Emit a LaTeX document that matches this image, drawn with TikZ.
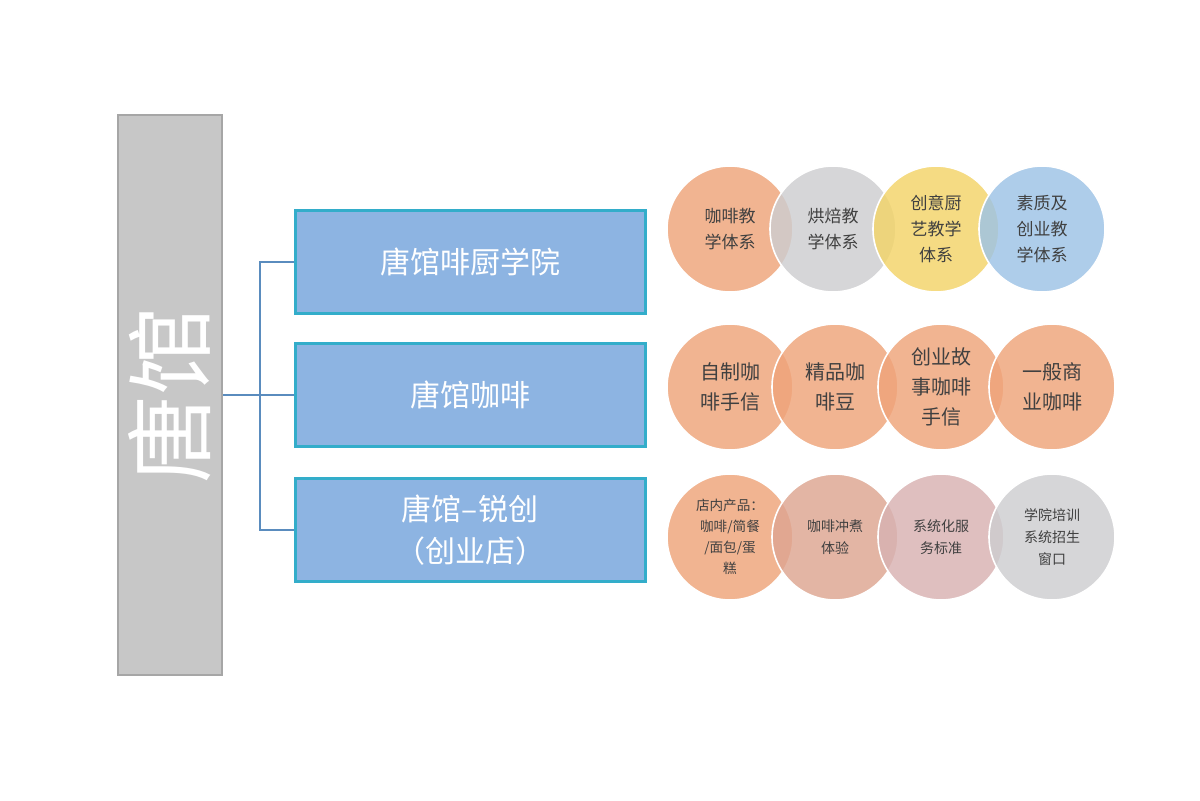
\documentclass[tikz,border=0pt]{standalone}
\usepackage{fontspec}
\newfontfamily\cjk{Noto Sans CJK SC}
\begin{document}
\begin{tikzpicture}[x=0.5pt,y=-0.5pt,
  bar/.style={draw=gray!70,line width=1pt,fill=black!22,minimum width=52pt,minimum height=280pt,inner sep=0},
  bluebox/.style={draw=black!8!blue!20!cyan!60!gray,line width=1.5pt,fill={rgb,255:red,141;green,180;blue,226},minimum width=175pt,minimum height=51.5pt,inner sep=0,text=white,font=\cjk\fontsize{15}{21}\selectfont,align=center},
  circ/.style={circle,minimum size=63pt,inner sep=0,draw=white,line width=0.8pt,fill opacity=0.82,text opacity=1,align=center,text=black!75,font=\cjk\fontsize{8.5}{13}\selectfont},
  conn/.style={draw={rgb,255:red,90;green,140;blue,190},line width=0.6pt}]
\useasboundingbox (0,0) rectangle (1200,800);
\fill[white] (0,0) rectangle (1200,800);
\definecolor{cor}{RGB}{239,164,122}
\definecolor{cgr}{RGB}{205,205,208}
\definecolor{cye}{RGB}{243,212,104}
\definecolor{cbl}{RGB}{157,195,230}
\definecolor{cpk}{RGB}{222,165,145}
\definecolor{cpk2}{RGB}{216,178,178}
\node[bar] (root) at (170,395) {};
\node[rotate=90,text=white,font=\cjk\fontsize{44}{44}\selectfont] (roott) at (170,395) {唐馆};
\node[bluebox] (b1) at (470,262) {唐馆啡厨学院};
\node[bluebox] (b2) at (470,395) {唐馆咖啡};
\node[bluebox] (b3) at (470,530) {唐馆–锐创\\（创业店）};
\coordinate (j) at (260,395);
\draw[conn] (root.east) -- (j);
\draw[conn] (j) |- (b1.west);
\draw[conn] (j) |- (b3.west);
\draw[conn] (j) -- (b2.west);
% row 1
\node[circ,fill=cor] (c11) at (730,229) {咖啡教\\学体系};
\node[circ,fill=cgr] (c12) at (833,229) {烘焙教\\学体系};
\node[circ,fill=cye] (c13) at (936,229) {创意厨\\艺教学\\体系};
\node[circ,fill=cbl] (c14) at (1042,229) {素质及\\创业教\\学体系};
% row 2
\node[circ,fill=cor,font=\cjk\fontsize{10}{15}\selectfont] (c21) at (730,387) {自制咖\\啡手信};
\node[circ,fill=cor,font=\cjk\fontsize{10}{15}\selectfont] (c22) at (835,387) {精品咖\\啡豆};
\node[circ,fill=cor,font=\cjk\fontsize{10}{15}\selectfont] (c23) at (941,387) {创业故\\事咖啡\\手信};
\node[circ,fill=cor,font=\cjk\fontsize{10}{15}\selectfont] (c24) at (1052,387) {一般商\\业咖啡};
% row 3
\node[circ,fill=cor,font=\cjk\fontsize{6.8}{10.5}\selectfont] (c31) at (730,537) {店内产品：\\咖啡/简餐\\/面包/蛋\\糕};
\node[circ,fill=cpk,font=\cjk\fontsize{7}{11}\selectfont] (c32) at (835,537) {咖啡冲煮\\体验};
\node[circ,fill=cpk2,font=\cjk\fontsize{7}{11}\selectfont] (c33) at (941,537) {系统化服\\务标准};
\node[circ,fill=cgr,font=\cjk\fontsize{7}{11}\selectfont] (c34) at (1052,537) {学院培训\\系统招生\\窗口};
\end{tikzpicture}
\end{document}
